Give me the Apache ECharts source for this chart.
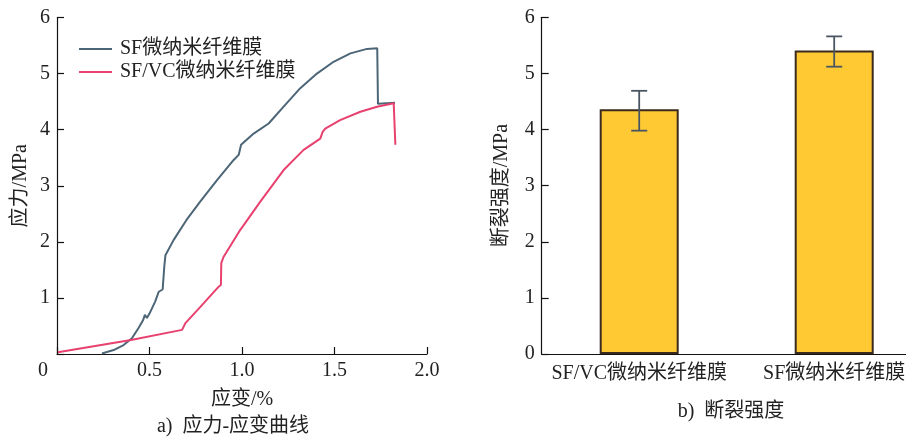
<!DOCTYPE html>
<html>
<head>
<meta charset="utf-8">
<script src="https://cdn.jsdelivr.net/npm/echarts@6/dist/echarts.min.js"></script>
<style>
  html, body { margin: 0; padding: 0; background: #fff; }
  #chart { width: 906px; height: 437px; }
</style>
</head>
<body>
<div id="chart"></div>
<script>
// Stress-strain curves: [strain %, stress MPa]
const sfCurve = [
  [0.243, 0.01], [0.306, 0.07], [0.36, 0.16], [0.405, 0.28], [0.44, 0.46],
  [0.465, 0.60], [0.475, 0.70], [0.486, 0.64], [0.50, 0.72], [0.53, 0.93],
  [0.55, 1.11], [0.571, 1.15], [0.58, 1.56], [0.586, 1.76], [0.63, 2.03],
  [0.70, 2.39], [0.775, 2.72], [0.865, 3.10], [0.955, 3.46], [0.982, 3.55],
  [0.995, 3.73], [1.063, 3.93], [1.144, 4.11], [1.225, 4.41], [1.315, 4.74],
  [1.405, 5.00], [1.495, 5.21], [1.586, 5.36], [1.676, 5.44], [1.731, 5.45],
  [1.735, 4.46], [1.827, 4.48]
];
const sfvcCurve = [
  [0.005, 0.03], [0.40, 0.25], [0.676, 0.43], [0.694, 0.55], [0.775, 0.84],
  [0.874, 1.20], [0.886, 1.23], [0.888, 1.62], [0.90, 1.73], [0.99, 2.21],
  [1.10, 2.72], [1.225, 3.28], [1.333, 3.64], [1.423, 3.84], [1.436, 3.96],
  [1.45, 4.02], [1.53, 4.17], [1.64, 4.32], [1.73, 4.41], [1.82, 4.47],
  [1.827, 4.47], [1.829, 3.73]
];
const curveNames = ['SF微纳米纤维膜', 'SF/VC微纳米纤维膜'];

// Breaking strength with error bars
const categories = ['SF/VC微纳米纤维膜', 'SF微纳米纤维膜'];
const strength = [4.36, 5.41];
const errLow = [3.98, 5.12];
const errHigh = [4.69, 5.66];

const xTicks = ['0', '0.5', '1.0', '1.5', '2.0'];

const FONT = '"Liberation Serif", "Noto Sans CJK SC", serif';
const TXT = '#222';

const chart = echarts.init(document.getElementById('chart'), null, { renderer: 'canvas' });

const axisLine = { show: true, lineStyle: { color: '#111', width: 1.2 } };
const axisTick = { show: true, inside: true, length: 7, lineStyle: { color: '#111', width: 1.2 } };

chart.setOption({
  animation: false,
  backgroundColor: '#fff',
  textStyle: { fontFamily: FONT },
  grid: [
    { left: 57, top: 17.5, width: 370, height: 336.5, outerBoundsMode: 'none', containLabel: false },
    { left: 541.7, top: 17.3, width: 390, height: 336.7, outerBoundsMode: 'none', containLabel: false }
  ],
  legend: {
    left: 74, top: 34, orient: 'vertical',
    itemWidth: 33, itemHeight: 2, itemGap: 3, icon: 'rect',
    data: curveNames,
    textStyle: { fontFamily: FONT, fontSize: 20, color: TXT, padding: [0, 0, 0, 3], lineHeight: 20 }
  },
  xAxis: [
    {
      gridIndex: 0, type: 'value', min: 0, max: 2, interval: 0.5,
      axisLine, axisTick, splitLine: { show: false },
      axisLabel: {
        margin: 7, fontSize: 20, color: TXT, fontFamily: FONT,
        formatter: v => {
          const s = xTicks[Math.round(v / 0.5)];
          return v === 0 ? '{o|' + s + '}' : s;
        },
        rich: { o: { fontSize: 20, fontFamily: FONT, color: TXT, padding: [0, 28, 0, 0] } }
      },
      name: '应变/%', nameLocation: 'middle', nameGap: 36,
      nameTextStyle: { fontSize: 20, color: TXT, fontFamily: FONT }
    },
    {
      gridIndex: 1, type: 'category', data: categories,
      axisLine, axisTick: { show: true, inside: true, alignWithLabel: true, length: 7, lineStyle: { color: '#111', width: 1.2 } },
      axisLabel: { margin: 10, fontSize: 20, color: TXT, fontFamily: FONT, interval: 0, hideOverlap: false }
    }
  ],
  yAxis: [
    {
      gridIndex: 0, type: 'value', min: 0, max: 6, interval: 1,
      axisLine, axisTick, splitLine: { show: false },
      axisLabel: { margin: 7, fontSize: 20, color: TXT, fontFamily: FONT, formatter: v => v === 0 ? '' : String(v) },
      name: '应力/MPa', nameLocation: 'middle', nameGap: 26,
      nameTextStyle: { fontSize: 20, color: TXT, fontFamily: FONT }
    },
    {
      gridIndex: 1, type: 'value', min: 0, max: 6, interval: 1,
      axisLine, axisTick, splitLine: { show: false },
      axisLabel: { margin: 7, fontSize: 20, color: TXT, fontFamily: FONT },
      name: '断裂强度/MPa', nameLocation: 'middle', nameGap: 30,
      nameTextStyle: { fontSize: 20, color: TXT, fontFamily: FONT }
    }
  ],
  graphic: [
    { type: 'text', x: 233, y: 427, style: { text: 'a)  应力-应变曲线', fontSize: 20, fontFamily: FONT, fill: TXT, align: 'center', verticalAlign: 'middle' } },
    { type: 'text', x: 731, y: 412, style: { text: 'b)  断裂强度', fontSize: 20, fontFamily: FONT, fill: TXT, align: 'center', verticalAlign: 'middle' } }
  ],
  series: [
    {
      name: curveNames[0], type: 'line', xAxisIndex: 0, yAxisIndex: 0,
      data: sfCurve, showSymbol: false, symbol: 'none',
      lineStyle: { color: '#4d6677', width: 2 }, itemStyle: { color: '#4d6677' }
    },
    {
      name: curveNames[1], type: 'line', xAxisIndex: 0, yAxisIndex: 0,
      data: sfvcCurve, showSymbol: false, symbol: 'none',
      lineStyle: { color: '#e8416f', width: 2 }, itemStyle: { color: '#e8416f' }
    },
    {
      type: 'bar', xAxisIndex: 1, yAxisIndex: 1, data: strength, barWidth: 79,
      itemStyle: { color: '#fec933', borderColor: '#3a2a1e', borderWidth: 2 }
    },
    {
      type: 'custom', xAxisIndex: 1, yAxisIndex: 1,
      data: categories.map((c, i) => [i, errLow[i], errHigh[i]]),
      renderItem: (params, api) => {
        const lo = api.coord([api.value(0), api.value(1)]);
        const hi = api.coord([api.value(0), api.value(2)]);
        const w = 8;
        const st = { stroke: '#4a5662', lineWidth: 1.8 };
        return {
          type: 'group',
          children: [
            { type: 'line', shape: { x1: hi[0], y1: hi[1], x2: lo[0], y2: lo[1] }, style: st },
            { type: 'line', shape: { x1: hi[0] - w, y1: hi[1], x2: hi[0] + w, y2: hi[1] }, style: st },
            { type: 'line', shape: { x1: lo[0] - w, y1: lo[1], x2: lo[0] + w, y2: lo[1] }, style: st }
          ]
        };
      },
      z: 5
    }
  ]
});
</script>
</body>
</html>
